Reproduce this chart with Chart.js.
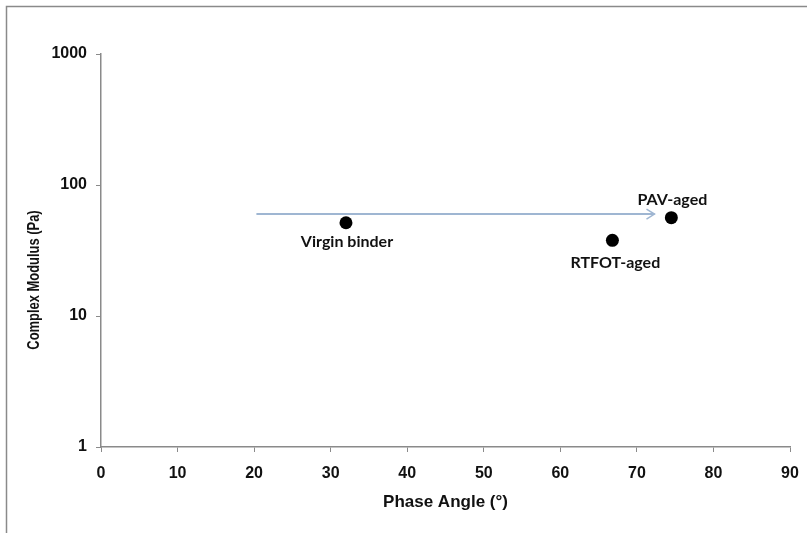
<!DOCTYPE html>
<html>
<head>
<meta charset="utf-8">
<script src="https://cdn.jsdelivr.net/npm/chart.js@4"></script>
<style>
  html, body { margin:0; padding:0; background:#fff; }
  #c { display:block; }
</style>
</head>
<body>
<canvas id="c" width="807" height="533"></canvas>
<script>
// samples: name, phase angle (deg), complex modulus (Pa)
var names  = ['Virgin binder', 'RTFOT-aged', 'PAV-aged'];
var phase  = [32.0, 66.8, 74.5];
var modulus = [51.5, 37.8, 56.3];

// ageing trend arrow
var arrowX = [20.3, 72.3];
var arrowY = [60, 60];

var yTicks = [1, 10, 100, 1000];
var xMin = 0, xMax = 90, xStep = 10;

var labelOffset = { 'Virgin binder':[1,19], 'RTFOT-aged':[3,22], 'PAV-aged':[1,-18] };

var pts = phase.map(function(x,i){ return { x:x, y:modulus[i] }; });
var arrowPts = arrowX.map(function(x,i){ return { x:x, y:arrowY[i] }; });

var axisFont = { family:'"Liberation Sans", Arial, sans-serif', size:16, weight:'bold' };

var framePlugin = {
  id:'frame',
  beforeDraw:function(chart){
    var ctx = chart.ctx;
    ctx.save();
    ctx.fillStyle = '#fff';
    ctx.fillRect(0,0,chart.width,chart.height);
    ctx.strokeStyle = '#8a8a8a';
    ctx.lineWidth = 1.5;
    ctx.beginPath();
    ctx.moveTo(6.5, chart.height);
    ctx.lineTo(6.5, 6.5);
    ctx.lineTo(chart.width, 6.5);
    ctx.stroke();
    ctx.restore();
  },
  afterDraw:function(chart){
    var ctx = chart.ctx;
    ctx.save();
    // y title, condensed and off centre like the original
    ctx.translate(34, 280);
    ctx.rotate(-Math.PI/2);
    ctx.scale(0.76, 1);
    ctx.font = 'bold 17px "Liberation Sans", Arial, sans-serif';
    ctx.fillStyle = '#111';
    ctx.textAlign = 'center';
    ctx.textBaseline = 'middle';
    ctx.fillText('Complex Modulus (Pa)', 0, 0);
    ctx.restore();

    // point labels
    var meta = chart.getDatasetMeta(1);
    ctx.save();
    ctx.font = 'bold 16px Lato, "Open Sans", sans-serif';
    ctx.fillStyle = '#111';
    ctx.textAlign = 'center';
    ctx.textBaseline = 'middle';
    meta.data.forEach(function(el,i){
      var o = labelOffset[names[i]];
      ctx.fillText(names[i], el.x + o[0], el.y + o[1]);
    });
    ctx.restore();

    // arrow head
    var am = chart.getDatasetMeta(0).data;
    var end = am[am.length-1];
    ctx.save();
    ctx.strokeStyle = '#9fb6d2';
    ctx.lineWidth = 1.5;
    ctx.beginPath();
    ctx.moveTo(end.x - 8, end.y - 5);
    ctx.lineTo(end.x, end.y);
    ctx.lineTo(end.x - 8, end.y + 5);
    ctx.stroke();
    ctx.restore();
  }
};

new Chart(document.getElementById('c').getContext('2d'), {
  type:'scatter',
  data:{
    datasets:[
      { label:'trend', data:arrowPts, showLine:true, borderColor:'#9fb6d2', borderWidth:2, pointRadius:0, fill:false },
      { label:'samples', data:pts, pointRadius:6.5, pointBackgroundColor:'#000', pointBorderColor:'#000', pointBorderWidth:0 }
    ]
  },
  options:{
    responsive:false,
    animation:false,
    devicePixelRatio:1,
    layout:{ padding:{ top:54, right:17, left:0, bottom:0 } },
    plugins:{ legend:{ display:false }, tooltip:{ enabled:false } },
    scales:{
      x:{
        type:'linear', min:xMin, max:xMax,
        afterFit:function(s){ s.height = 86; s.paddingRight = 0; s.paddingLeft = 0; },
        ticks:{ stepSize:xStep, padding:12, color:'#111', font:axisFont },
        grid:{ drawOnChartArea:false, drawTicks:true, tickLength:5, color:'#8a8a8a' },
        border:{ display:true, color:'#8a8a8a', width:1.5 },
        title:{ display:true, text:'Phase Angle (°)', color:'#111', font:{ family:'"Liberation Sans", Arial', size:17, weight:'bold' }, padding:{ top:0, bottom:20 } }
      },
      y:{
        type:'logarithmic', min:yTicks[0], max:yTicks[yTicks.length-1],
        afterFit:function(s){ s.width = 101; s.paddingTop = 0; s.paddingBottom = 0; },
        afterBuildTicks:function(s){ s.ticks = yTicks.map(function(v){ return { value:v }; }); },
        ticks:{ padding:9, color:'#111', font:axisFont,
          callback:function(v){ return String(v); } },
        grid:{ drawOnChartArea:false, drawTicks:true, tickLength:5, color:'#8a8a8a' },
        border:{ display:true, color:'#8a8a8a', width:1.5 }
      }
    }
  },
  plugins:[framePlugin]
});
</script>
</body>
</html>
